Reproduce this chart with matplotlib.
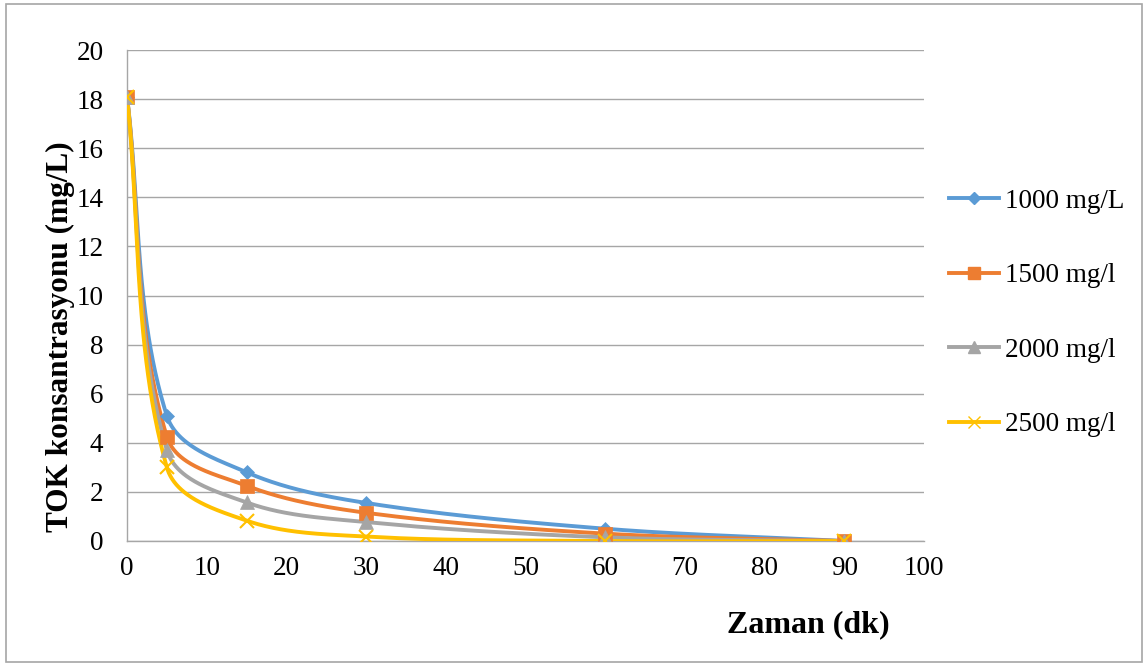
import numpy as np
import matplotlib
matplotlib.use("Agg")
import matplotlib.pyplot as plt
from matplotlib.patches import Rectangle

time_min = [0, 5, 15, 30, 60, 90]
series_labels = ["1000 mg/L", "1500 mg/l", "2000 mg/l", "2500 mg/l"]
toc_1000 = [18.1, 5.1, 2.8, 1.55, 0.5, 0.0]
toc_1500 = [18.1, 4.25, 2.25, 1.15, 0.3, 0.0]
toc_2000 = [18.1, 3.7, 1.57, 0.77, 0.15, 0.0]
toc_2500 = [18.1, 3.0, 0.83, 0.18, 0.0, 0.0]
x_ticks = [0, 10, 20, 30, 40, 50, 60, 70, 80, 90, 100]
y_ticks = [0, 2, 4, 6, 8, 10, 12, 14, 16, 18, 20]

colors = ["#5B9BD5", "#ED7D31", "#A5A5A5", "#FFC000"]
markers = ["D", "s", "^", "x"]
msizes = [7, 10, 10, 10]

plt.rcParams["font.family"] = ["Liberation Serif", "DejaVu Serif"]


def smooth(ax, xs, ys, n=80):
    # Bezier smoothing in display space with chord-length scaled tangents
    p = ax.transData.transform(np.column_stack([xs, ys]).astype(float))
    m = len(p)
    tang = []
    for i in range(m):
        a = p[max(i - 1, 0)]
        b = p[min(i + 1, m - 1)]
        d = b - a
        tang.append(d / (np.hypot(*d) + 1e-12))
    out = []
    for i in range(m - 1):
        p1, p2 = p[i], p[i + 1]
        L = np.hypot(*(p2 - p1))
        b1 = p1 + tang[i] * L / 3.0
        b2 = p2 - tang[i + 1] * L / 3.0
        t = np.linspace(0, 1, n)[:, None]
        seg = ((1 - t) ** 3) * p1 + 3 * ((1 - t) ** 2) * t * b1 + 3 * (1 - t) * t ** 2 * b2 + t ** 3 * p2
        out.append(seg)
    c = ax.transData.inverted().transform(np.vstack(out))
    return c[:, 0], c[:, 1]


fig = plt.figure(figsize=(11.47, 6.66), dpi=100)
fig.patches.append(Rectangle((6 / 1147, 4 / 666), 1136 / 1147, 658 / 666, transform=fig.transFigure,
                             fill=False, edgecolor="#A6A6A6", linewidth=1.2))
ax = fig.add_axes([127 / 1147, 1 - 541 / 666, (924 - 127) / 1147, (541 - 50) / 666])
ax.set_xlim(0, 100)
ax.set_ylim(0, 20)

for ys, lab, col, mk, ms in zip([toc_1000, toc_1500, toc_2000, toc_2500], series_labels, colors, markers, msizes):
    sx, sy = smooth(ax, time_min, ys)
    ax.plot(sx, sy, color=col, linewidth=2.8, zorder=3)
    ax.plot(time_min, ys, linestyle="none", marker=mk, color=col, markersize=ms,
            markeredgewidth=1.5 if mk == "x" else 0.5, zorder=4)
    ax.plot([], [], color=col, linewidth=2.8, marker=mk, markersize=ms - 1, label=lab)

ax.set_xticks(x_ticks)
ax.set_yticks(y_ticks)
ax.grid(axis="y", color="#A6A6A6", linewidth=1.0)
ax.set_axisbelow(True)
for s in ["top", "right"]:
    ax.spines[s].set_visible(False)
for s in ["left", "bottom"]:
    ax.spines[s].set_color("#A6A6A6")
    ax.spines[s].set_linewidth(1.0)
ax.tick_params(length=0, labelsize=19.5, pad=11)
ax.tick_params(axis="y", pad=17)

fig.text(60 / 1147, 1 - 337 / 666, "TOK konsantrasyonu (mg/L)", rotation=90, ha="center", va="center",
         fontsize=22.5, fontweight="bold")
fig.text(808 / 1147, 1 - 625 / 666, "Zaman (dk)", ha="center", va="center", fontsize=23, fontweight="bold")

leg = fig.legend(loc="center left", bbox_to_anchor=(925 / 1147, 1 - 313 / 666), frameon=False,
                 fontsize=19.5, labelspacing=1.83, handlelength=1.85, handletextpad=0.2)

fig.savefig("out.png", dpi=100)
